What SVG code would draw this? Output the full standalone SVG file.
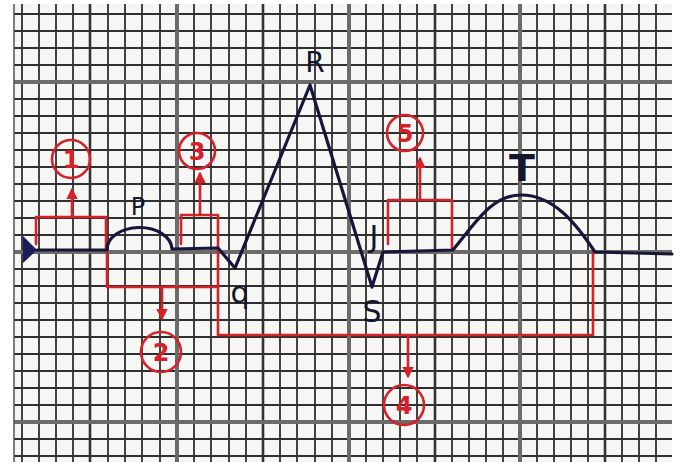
<svg xmlns="http://www.w3.org/2000/svg" width="683" height="470" viewBox="0 0 683 470">
<defs>
<style>
.minor{stroke:#2f2f2f;stroke-width:1.8;fill:none}
.medium{stroke:#333;stroke-width:2.6;fill:none}
.major{stroke:#6b6b6b;stroke-width:4;fill:none}
.trace{stroke:#16163a;stroke-width:3.2;fill:none;stroke-linejoin:round;stroke-linecap:round}
.red{stroke:#d6202a;stroke-width:2.6;fill:none;stroke-linejoin:round;stroke-linecap:round}
.lbl{font-family:"DejaVu Sans","Liberation Sans",sans-serif;fill:#15152e;text-anchor:middle}
.num{font-family:"DejaVu Sans","Liberation Sans",sans-serif;fill:#d6202a;text-anchor:middle;font-size:24px;font-weight:bold}
</style>
<marker id="ah" viewBox="0 0 10 10" refX="8" refY="5" markerWidth="4.5" markerHeight="4.5" orient="auto-start-reverse">
<path d="M0,0 L10,5 L0,10 z" fill="#d6202a"/>
</marker>
</defs>
<rect x="0" y="0" width="683" height="470" fill="#ffffff"/>
<rect x="14" y="4" width="658" height="458" fill="#f6f6f4"/>
<g id="grid">
<path class="minor" d="M22 4V462M39 4V462M56 4V462M73 4V462M108 4V462M125 4V462M142 4V462M160 4V462M194 4V462M211 4V462M229 4V462M246 4V462M280 4V462M297 4V462M315 4V462M332 4V462M366 4V462M383 4V462M400 4V462M417 4V462M452 4V462M469 4V462M486 4V462M503 4V462M537 4V462M554 4V462M571 4V462M588 4V462M622 4V462M639 4V462M656 4V462"/>
<path class="minor" d="M14 14H672M14 31H672M14 48H672M14 65H672M14 99H672M14 116H672M14 133H672M14 150H672M14 167H672M14 184H672M14 201H672M14 218H672M14 235H672M14 269H672M14 286H672M14 303H672M14 320H672M14 337H672M14 354H672M14 371H672M14 388H672M14 405H672M14 439H672M14 456H672"/>
<path class="medium" d="M90 4V462M263 4V462M435 4V462M605 4V462"/>
<path class="major" d="M177 4V462M349 4V462M520 4V462M14 82H672M14 252H672M14 422H672"/>
<path d="M14 4V462" stroke="#555" stroke-width="1.5"/>
</g>
<g id="connectors">
<path class="red" d="M36 244V217H106V250"/>
<path class="red" d="M107 252V287H218"/>
<path class="red" d="M181 244V215H218V335H593V252"/>
<path class="red" d="M388 244V200H452V250"/>
<line class="red" x1="72" y1="217" x2="72" y2="190" marker-end="url(#ah)"/>
<line class="red" x1="162" y1="287" x2="162" y2="318" marker-end="url(#ah)"/>
<line class="red" x1="200" y1="215" x2="200" y2="174" marker-end="url(#ah)"/>
<line class="red" x1="408" y1="337" x2="408" y2="376" marker-end="url(#ah)"/>
<line class="red" x1="420" y1="200" x2="420" y2="159" marker-end="url(#ah)"/>
</g>
<g id="trace">
<path d="M23 236L37 250L23 263Z" fill="#1c1c5a"/>
<path class="trace" d="M37 250L107 250A32.5 22 0 0 1 172 249L218 248L235 268L310 85L372 287L383 252L453 250C476 222 492 195 521 195C553 195 575 222 595 252L672 254"/>
</g>
<g id="label-P"><text class="lbl" x="138" y="215" font-size="24">P</text></g>
<g id="label-R"><text class="lbl" x="315" y="72" font-size="28">R</text></g>
<g id="label-q"><text class="lbl" x="240" y="303" font-size="30">q</text></g>
<g id="label-J"><text class="lbl" x="374" y="247" font-size="30">J</text></g>
<g id="label-S"><text class="lbl" x="372" y="322" font-size="30">S</text></g>
<g id="label-T"><text class="lbl" x="522" y="181" font-size="38" font-weight="bold">T</text></g>
<g id="n1"><circle class="red" cx="71" cy="159" r="19"/><text class="num" x="71" y="168">1</text></g>
<g id="n2"><circle class="red" cx="161" cy="352" r="20"/><text class="num" x="161" y="361">2</text></g>
<g id="n3"><circle class="red" cx="197" cy="151" r="18"/><text class="num" x="197" y="160">3</text></g>
<g id="n4"><circle class="red" cx="404" cy="405" r="20"/><text class="num" x="404" y="414">4</text></g>
<g id="n5"><circle class="red" cx="405" cy="133" r="18"/><text class="num" x="405" y="142">5</text></g>
</svg>
